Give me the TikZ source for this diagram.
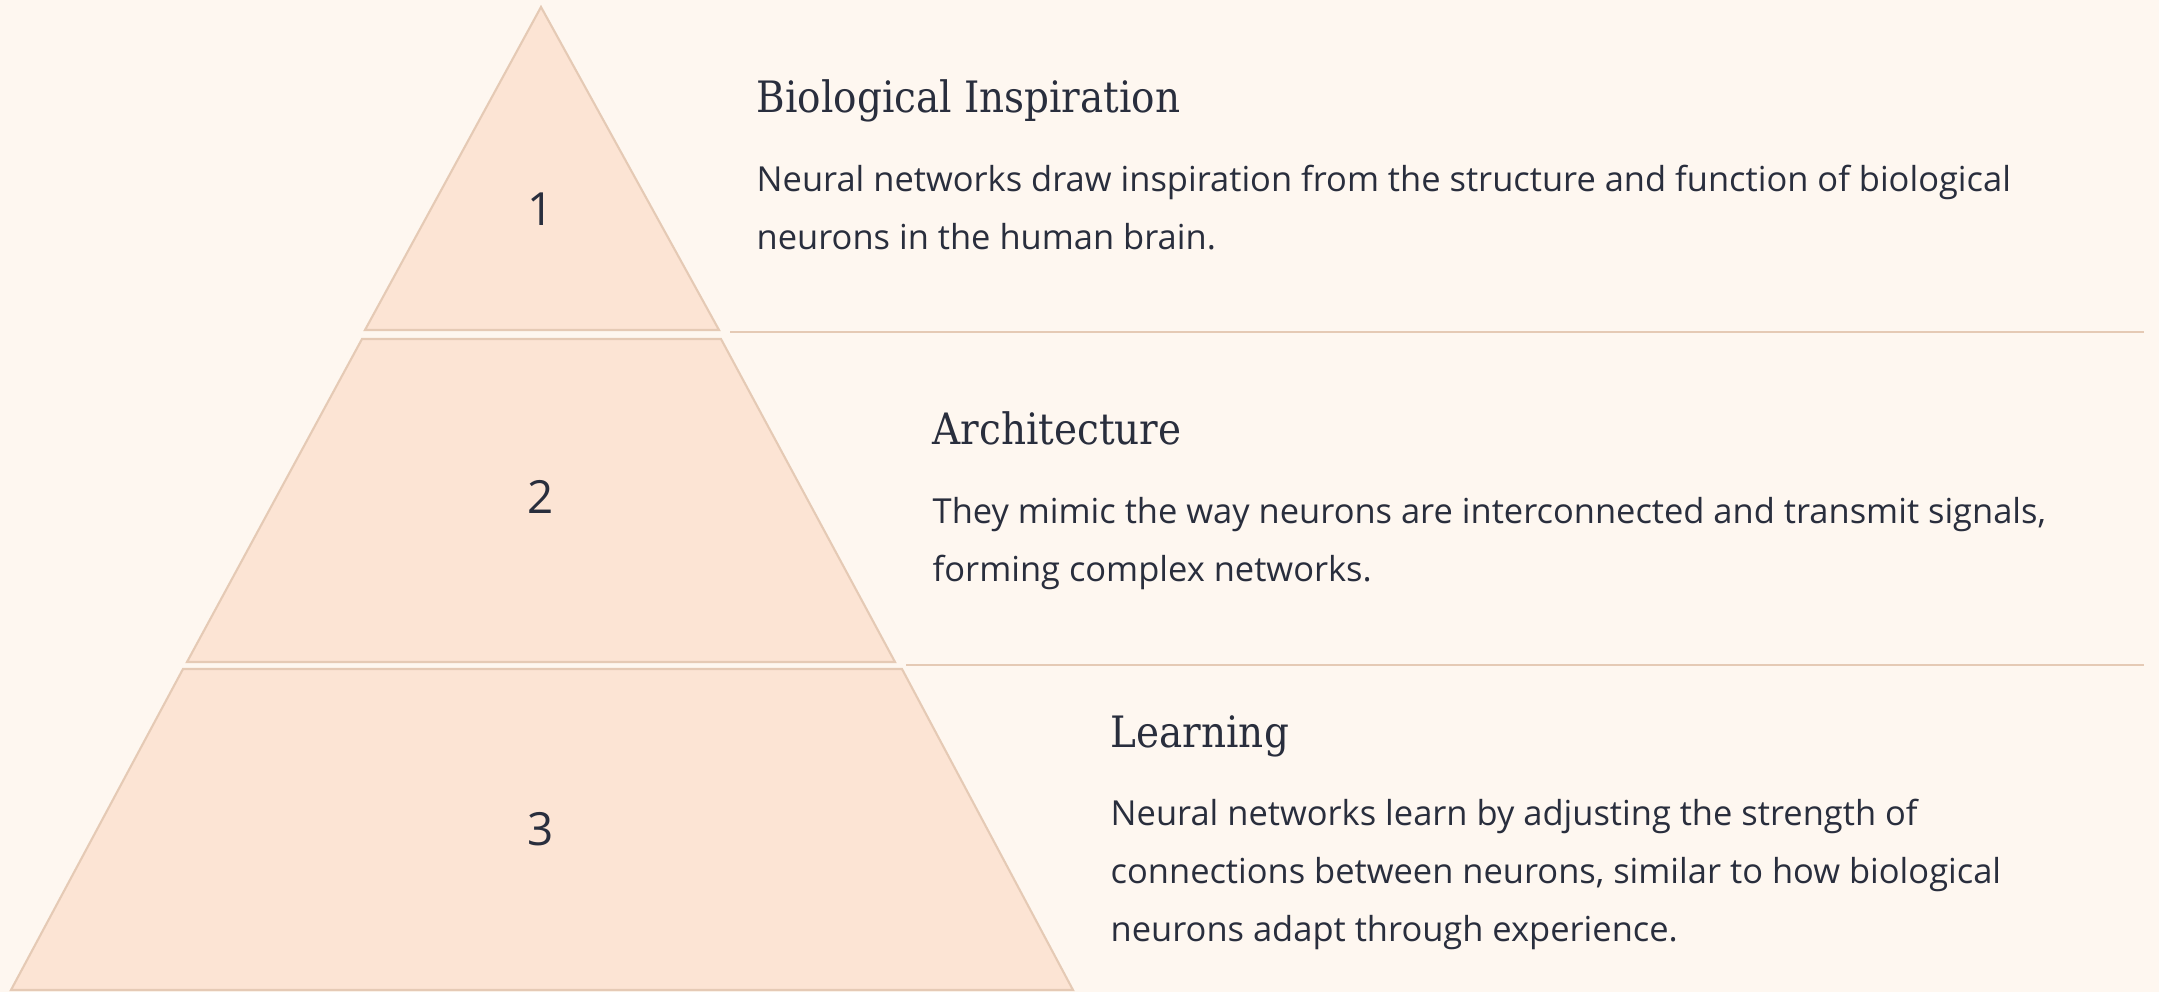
\documentclass[tikz,border=0pt]{standalone}
\usepackage{fontspec}
\setmainfont{Open Sans}
\newfontfamily\headfont{DejaVu Serif Condensed}
\usetikzlibrary{positioning}

\definecolor{paper}{RGB}{254,247,240}
\definecolor{tierfill}{RGB}{252,228,212}
\definecolor{tierline}{RGB}{229,202,181}
\definecolor{ink}{RGB}{41,46,61}

\begin{document}
\begin{tikzpicture}[
    x=0.01cm, y=-0.01cm,
    tier/.style={fill=tierfill,draw=tierline,line width=0.6pt},
    num/.style={font=\fontsize{13}{13}\selectfont,text=ink},
    heading/.style={font=\headfont\fontsize{12.3}{15}\selectfont,text=ink,anchor=base west,inner sep=0pt},
    body/.style={font=\fontsize{9.8}{16.5}\selectfont,text=ink,align=left,anchor=base west,inner sep=0pt},
    rule/.style={draw=tierline,line width=0.6pt}
  ]
    \fill[paper] (0,0) rectangle (2159,992);

    % pyramid tiers, top to bottom
    \path[tier] (541,7) -- (719,330) -- (365,330) -- cycle;
    \path[tier] (362,339) -- (721,339) -- (895,662) -- (187,662) -- cycle;
    \path[tier] (183,669) -- (902,669) -- (1073,990) -- (11,990) -- cycle;

    \node[num] (n1) at (541,209) {1};
    \node[num] (n2) at (541,497) {2};
    \node[num] (n3) at (541,829) {3};

    % separators
    \coordinate (s1a) at (730,332);
    \coordinate (s1b) at (2144,332);
    \coordinate (s2a) at (906,665);
    \coordinate (s2b) at (2144,665);
    \draw[rule] (s1a) -- (s1b);
    \draw[rule] (s2a) -- (s2b);

    % text blocks (body nodes sit on their last baseline)
    \node[heading] (h1) at (756,113) {Biological Inspiration};
    \node[body] (b1) at (756,250) {Neural networks draw inspiration from the structure and function of biological\\neurons in the human brain.};

    \node[heading] (h2) at (932,445) {Architecture};
    \node[body] (b2) at (932,582) {They mimic the way neurons are interconnected and transmit signals,\\forming complex networks.};

    \node[heading] (h3) at (1110,748) {Learning};
    \node[body] (b3) at (1110,942) {Neural networks learn by adjusting the strength of\\connections between neurons, similar to how biological\\neurons adapt through experience.};
  \end{tikzpicture}
\end{document}
